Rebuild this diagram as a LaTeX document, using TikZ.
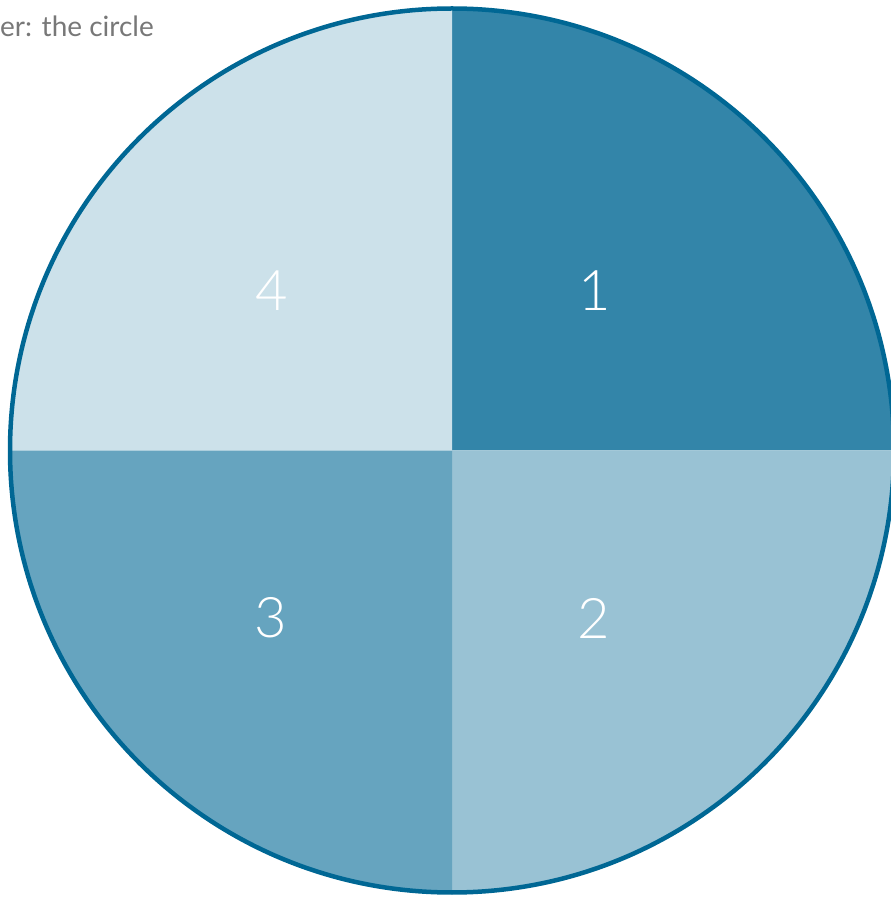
\documentclass[tikz,border=0pt]{standalone}
\usepackage{fontspec}
\setmainfont{Lato}
\newfontfamily\thinfont{Lato Light}
\usepackage{tikz}
\definecolor{deepblue}{RGB}{0,103,148}
\definecolor{captiongray}{HTML}{787878}

\begin{document}
\begin{tikzpicture}[
  x=1pt,y=1pt,
  num/.style={text=white,font=\thinfont\fontsize{56}{60}\selectfont,inner sep=0pt},
  rim/.style={draw=deepblue,line width=4.5pt},
  caption/.style={text=captiongray,font=\fontsize{28}{32}\selectfont,anchor=base west,inner sep=0pt}
]
\useasboundingbox (0,0) rectangle (891,898);
\clip (0,0) rectangle (891,898);
\coordinate (centre) at (452,447.5);
% the four quarters
\fill[deepblue!80!white] (centre) -- ++(90:442) arc[start angle=90,end angle=0,radius=442] -- cycle;
\fill[deepblue!40!white] (centre) -- ++(0:442) arc[start angle=0,end angle=-90,radius=442] -- cycle;
\fill[deepblue!60!white] (centre) -- ++(-90:442) arc[start angle=-90,end angle=-180,radius=442] -- cycle;
\fill[deepblue!20!white] (centre) -- ++(180:442) arc[start angle=180,end angle=90,radius=442] -- cycle;
\draw[rim] (centre) circle[radius=442];
\node[num] (q1) at (595,607.5) {1};
\node[num] (q2) at (594,280) {2};
\node[num] (q3) at (271,280) {3};
\node[num] (q4) at (271.5,607) {4};
\node[caption] (title) at (0,861) {er: the circle};
\end{tikzpicture}
\end{document}
